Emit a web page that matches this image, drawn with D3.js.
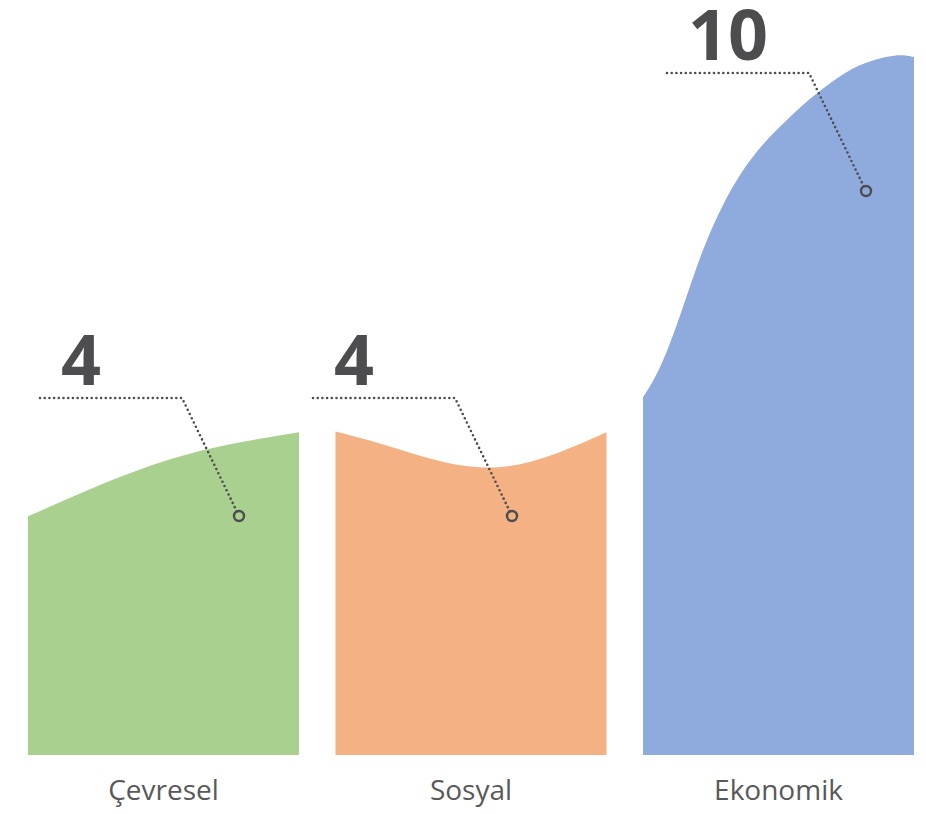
<!DOCTYPE html>
<html>
<head>
<meta charset="utf-8">
<script src="https://cdn.jsdelivr.net/npm/d3@7"></script>
<style>
  html, body { margin: 0; padding: 0; background: #ffffff; }
  svg { display: block; }
</style>
</head>
<body>
<svg id="chart" width="926" height="814"></svg>
<script>
// ---- data ----
const categories = ["Çevresel", "Sosyal", "Ekonomik"];
const values = [4, 4, 10];
// top-edge profile of each shape: position across the band (0..1) and height value
const cevreselProfile = [[0, 3.41], [0.339, 3.97], [0.653, 4.36], [1, 4.61]];
const sosyalProfile = [[0, 4.62], [0.24, 4.36], [0.6, 4.11], [1, 4.61]];
const ekonomikProfile = [[0, 5.11], [0.048, 5.4], [0.096, 5.83], [0.148, 6.4], [0.218, 7.21], [0.284, 7.79], [0.358, 8.31], [0.443, 8.74], [0.531, 9.07], [0.609, 9.36], [0.727, 9.71], [0.812, 9.89], [0.937, 10.02], [1, 9.97]];
const profiles = [cevreselProfile, sosyalProfile, ekonomikProfile];
const colors = ["#a9d08e", "#f4b183", "#8faadc"];

// ---- layout ----
const svg = d3.select("#chart");
const baseY = 755;
const x = d3.scaleBand().domain(categories).range([28, 914]).paddingInner(0.1187);
const y = d3.scaleLinear().domain([0, 10]).range([baseY, 55]);
const annY = d3.scaleLinear().domain([4, 10]).range([398, 73]);
const leaderDx = [12, -22.5, 24];
const curves = [d3.curveNatural, d3.curveNatural, d3.curveBasis];
const textColor = "#4d4d4f";

categories.forEach((cat, i) => {
  const x0 = x(cat), bw = x.bandwidth();
  const xi = d3.scaleLinear().domain([0, 1]).range([x0, x0 + bw]);
  const area = d3.area()
    .x(d => xi(d[0]))
    .y0(baseY)
    .y1(d => y(d[1]))
    .curve(curves[i]);
  svg.append("path")
    .datum(profiles[i])
    .attr("d", area)
    .attr("fill", colors[i]);
});

// annotations
categories.forEach((cat, i) => {
  const lx0 = x(cat) + leaderDx[i];
  const lx1 = lx0 + 142;
  const ly = annY(values[i]);
  const cx = lx1 + 57;
  const cy = ly + 118;
  const r = 5;
  const ang = Math.atan2(cy - ly, cx - lx1);
  const ex = cx - r * Math.cos(ang), ey = cy - r * Math.sin(ang);
  svg.append("path")
    .attr("d", `M${lx0},${ly}L${lx1},${ly}L${ex},${ey}`)
    .attr("fill", "none")
    .attr("stroke", textColor)
    .attr("stroke-width", 2.6)
    .attr("stroke-linecap", "round")
    .attr("stroke-dasharray", "0,4.7");
  svg.append("circle")
    .attr("cx", cx).attr("cy", cy).attr("r", r)
    .attr("fill", "none")
    .attr("stroke", textColor)
    .attr("stroke-width", 2.4);
  svg.append("text")
    .attr("x", lx0 + 21)
    .attr("y", ly - 13)
    .attr("font-family", "'Open Sans', sans-serif")
    .attr("font-weight", 700)
    .attr("font-size", 70)
    .attr("fill", textColor)
    .text(values[i]);
});

// category labels
const xAxis = d3.axisBottom(x).tickSize(0).tickPadding(0);
const gx = svg.append("g").attr("transform", `translate(0,${baseY})`).call(xAxis);
gx.select(".domain").remove();
gx.selectAll("text")
  .attr("dy", null)
  .attr("y", 45)
  .attr("font-family", "'Open Sans', sans-serif")
  .attr("font-size", 28)
  .attr("fill", "#595959");
</script>
</body>
</html>
